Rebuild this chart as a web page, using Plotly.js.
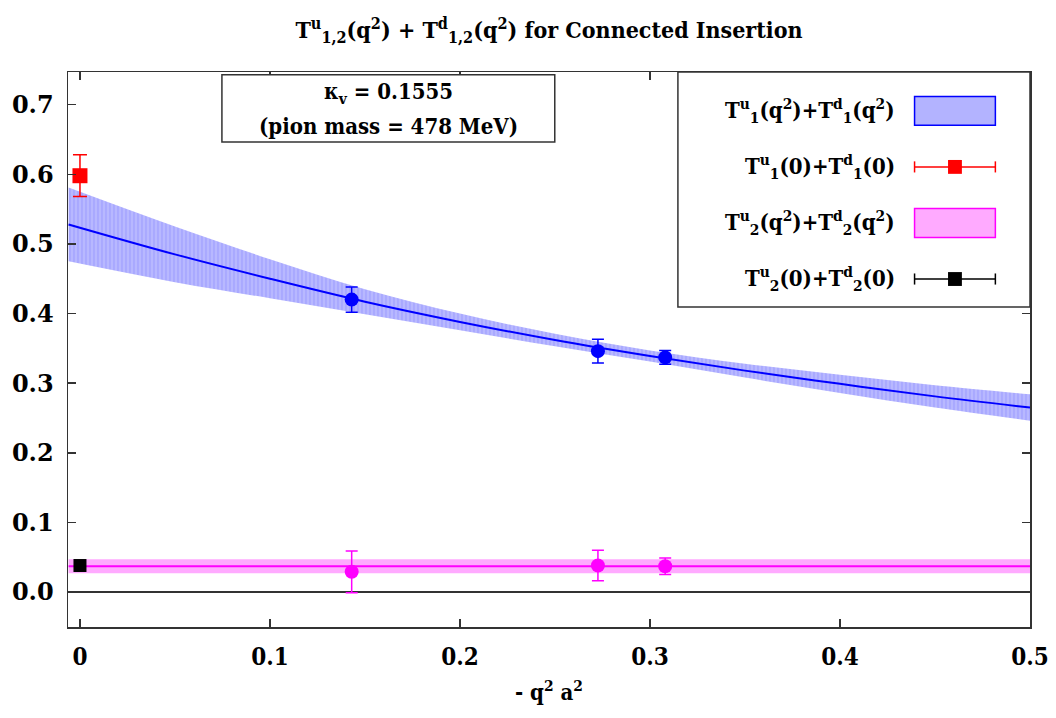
<!DOCTYPE html>
<html>
<head>
<meta charset="utf-8">
<script src="https://cdn.plot.ly/plotly-3.0.1.min.js"></script>
<style>html,body{margin:0;padding:0;background:#fff;}#chart{width:1056px;height:718px;}</style>
</head>
<body>
<div id="chart"></div>
<script>
// ---- data ----
// T1 fit band, read at several -q^2 a^2 values
const fitX    = [-0.006, 0.05, 0.10, 0.15, 0.20, 0.25, 0.30, 0.35, 0.40, 0.45, 0.50];
const fitMid  = [0.528, 0.485, 0.450, 0.417, 0.388, 0.362, 0.339, 0.318, 0.299, 0.281, 0.265];
const fitHalf = [0.053, 0.040, 0.028, 0.018, 0.012, 0.009, 0.008, 0.010, 0.013, 0.016, 0.019];

// T2 constant fit band
const t2X    = [-0.006, 0.50];
const t2Mid  = [0.037, 0.037];
const t2Half = [0.010, 0.010];

// lattice data points
const ptX      = [0.143, 0.2726, 0.308];
const t1Y      = [0.420, 0.346, 0.337];
const t1Err    = [0.018, 0.017, 0.010];
const t2Y      = [0.029, 0.038, 0.037];
const t2Err    = [0.030, 0.022, 0.012];

// values at q^2 = 0
const zeroX   = [0];
const t1Zero  = [0.598];
const t1ZeroE = [0.030];
const t2Zero  = [0.038];
const t2ZeroE = [0.004];

const xTicks = [0, 0.1, 0.2, 0.3, 0.4, 0.5];
const xTickText = ['0', '0.1', '0.2', '0.3', '0.4', '0.5'];
const yTicks = [0, 0.1, 0.2, 0.3, 0.4, 0.5, 0.6, 0.7];
const yTickText = ['0.0', '0.1', '0.2', '0.3', '0.4', '0.5', '0.6', '0.7'];

const legendLabels = [
  'T<sup>u</sup><sub>1</sub>(q<sup>2</sup>)+T<sup>d</sup><sub>1</sub>(q<sup>2</sup>)',
  'T<sup>u</sup><sub>1</sub>(0)+T<sup>d</sup><sub>1</sub>(0)',
  'T<sup>u</sup><sub>2</sub>(q<sup>2</sup>)+T<sup>d</sup><sub>2</sub>(q<sup>2</sup>)',
  'T<sup>u</sup><sub>2</sub>(0)+T<sup>d</sup><sub>2</sub>(0)'
];

// ---- styles ----
const SERIF = 'DejaVu Serif Condensed, DejaVu Serif';
const BLUE = '#0000ff', BLUEFILL = '#b3b3ff';
const MAG = '#ff00ff', MAGFILL = '#ffaaff';
const RED = '#ff0000', BLACK = '#000000';

const up = (m, h) => m.map((v, i) => v + h[i]);
const lo = (m, h) => m.map((v, i) => v - h[i]);

const traces = [
  {x: fitX, y: lo(fitMid, fitHalf), mode: 'lines', line: {width: 0, shape: 'spline'}, hoverinfo: 'skip', showlegend: false},
  {x: fitX, y: up(fitMid, fitHalf), mode: 'lines', line: {width: 0, shape: 'spline'}, fill: 'tonexty', fillcolor: BLUEFILL,
   fillpattern: {shape: '|', bgcolor: '#b8b8ff', fgcolor: '#a6a6ff', size: 4, solidity: 0.4},
   hoverinfo: 'skip', showlegend: false},
  {x: fitX, y: fitMid, mode: 'lines', line: {color: BLUE, width: 2, shape: 'spline'}, showlegend: false},
  {x: t2X, y: lo(t2Mid, t2Half), mode: 'lines', line: {width: 0}, hoverinfo: 'skip', showlegend: false},
  {x: t2X, y: up(t2Mid, t2Half), mode: 'lines', line: {width: 0}, fill: 'tonexty', fillcolor: MAGFILL, hoverinfo: 'skip', showlegend: false},
  {x: t2X, y: t2Mid, mode: 'lines', line: {color: MAG, width: 2}, showlegend: false},
  {x: ptX, y: t1Y, mode: 'markers', marker: {color: BLUE, size: 14, symbol: 'circle'},
   error_y: {type: 'data', array: t1Err, visible: true, color: BLUE, thickness: 1.5, width: 6}, showlegend: false},
  {x: ptX, y: t2Y, mode: 'markers', marker: {color: MAG, size: 14, symbol: 'circle'},
   error_y: {type: 'data', array: t2Err, visible: true, color: MAG, thickness: 1.5, width: 6}, showlegend: false},
  {x: zeroX, y: t1Zero, mode: 'markers', marker: {color: RED, size: 15, symbol: 'square'},
   error_y: {type: 'data', array: t1ZeroE, visible: true, color: RED, thickness: 1.5, width: 7}, showlegend: false},
  {x: zeroX, y: t2Zero, mode: 'markers', marker: {color: BLACK, size: 13, symbol: 'square'},
   error_y: {type: 'data', array: t2ZeroE, visible: true, color: BLACK, thickness: 1.5, width: 5}, showlegend: false}
];

// legend geometry (paper coordinates)
const legRowsY = [0.930, 0.829, 0.728, 0.627];
const legTextX = 0.862, swX0 = 0.880, swX1 = 0.964, swMid = 0.922;
const legColors = [[BLUE, BLUEFILL], [RED, null], [MAG, MAGFILL], [BLACK, null]];

const TXT = {family: SERIF, size: 22, color: '#000', weight: 'bold'};

const shapes = [
  {type: 'rect', xref: 'paper', yref: 'paper', x0: 0.160, x1: 0.506, y0: 0.874, y1: 0.995, line: {color: '#333', width: 1.5}, fillcolor: 'white'},
  {type: 'rect', xref: 'paper', yref: 'paper', x0: 0.634, x1: 1.0, y0: 0.5766, y1: 1.0, line: {color: '#333', width: 1.5}, fillcolor: 'white'}
];
const annotations = [
  {xref: 'paper', yref: 'paper', x: 0.333, y: 0.962, text: 'κ<sub>v</sub> = 0.1555', showarrow: false, xanchor: 'center', yanchor: 'middle', font: TXT},
  {xref: 'paper', yref: 'paper', x: 0.333, y: 0.903, text: '(pion mass = 478 MeV)', showarrow: false, xanchor: 'center', yanchor: 'middle', font: TXT}
];
legendLabels.forEach((lab, i) => {
  const yc = legRowsY[i];
  annotations.push({xref: 'paper', yref: 'paper', x: legTextX, y: yc, text: lab, showarrow: false, xanchor: 'right', yanchor: 'middle', font: TXT});
  const [lc, fc] = legColors[i];
  if (fc) {
    shapes.push({type: 'rect', xref: 'paper', yref: 'paper', x0: swX0, x1: swX1, y0: yc - 0.026, y1: yc + 0.026, line: {color: lc, width: 1.5}, fillcolor: fc});
  } else {
    shapes.push({type: 'line', xref: 'paper', yref: 'paper', x0: swX0, x1: swX1, y0: yc, y1: yc, line: {color: lc, width: 1.5}});
    shapes.push({type: 'line', xref: 'paper', yref: 'paper', x0: swX0, x1: swX0, y0: yc - 0.01, y1: yc + 0.01, line: {color: lc, width: 1.5}});
    shapes.push({type: 'line', xref: 'paper', yref: 'paper', x0: swX1, x1: swX1, y0: yc - 0.01, y1: yc + 0.01, line: {color: lc, width: 1.5}});
    shapes.push({type: 'rect', xref: 'paper', yref: 'paper', x0: swMid - 0.0072, x1: swMid + 0.0072, y0: yc - 0.0125, y1: yc + 0.0125, line: {color: lc, width: 0}, fillcolor: lc});
  }
});

const layout = {
  width: 1056, height: 718,
  margin: {l: 68, r: 26, t: 72, b: 91},
  paper_bgcolor: '#fff', plot_bgcolor: '#fff',
  showlegend: false,
  font: {family: SERIF, color: '#000'},
  title: {text: 'T<sup>u</sup><sub>1,2</sub>(q<sup>2</sup>) + T<sup>d</sup><sub>1,2</sub>(q<sup>2</sup>) for Connected Insertion',
          font: {family: SERIF, size: 23, color: '#000', weight: 'bold'}, x: 0.5, xref: 'paper', xanchor: 'center', y: 0.958, yref: 'container', yanchor: 'middle'},
  xaxis: {
    range: [-0.0063, 0.5], tickvals: xTicks, ticktext: xTickText,
    ticks: 'inside', ticklen: 8, tickcolor: '#333', tickwidth: 1.5,
    showline: true, linecolor: '#333', linewidth: 1.5, mirror: 'ticks',
    showgrid: false, zeroline: false, ticklabelstandoff: 8,
    tickfont: {family: SERIF, size: 24, color: '#000', weight: 'bold'},
    title: {text: '- q<sup>2</sup> a<sup>2</sup>', font: {family: SERIF, size: 22, color: '#000', weight: 'bold'}, standoff: 14}
  },
  yaxis: {
    range: [-0.0503, 0.747], tickvals: yTicks, ticktext: yTickText,
    ticks: 'inside', ticklen: 8, tickcolor: '#333', tickwidth: 1.5,
    showline: true, linecolor: '#333', linewidth: 1.5, mirror: 'ticks',
    showgrid: false, zeroline: true, zerolinecolor: '#333', zerolinewidth: 1.5,
    ticklabelstandoff: 8,
    tickfont: {family: 'DejaVu Serif', size: 24, color: '#000', weight: 'bold'}
  },
  shapes: shapes,
  annotations: annotations
};

Plotly.newPlot('chart', traces, layout, {displayModeBar: false, staticPlot: true});
</script>
</body>
</html>
